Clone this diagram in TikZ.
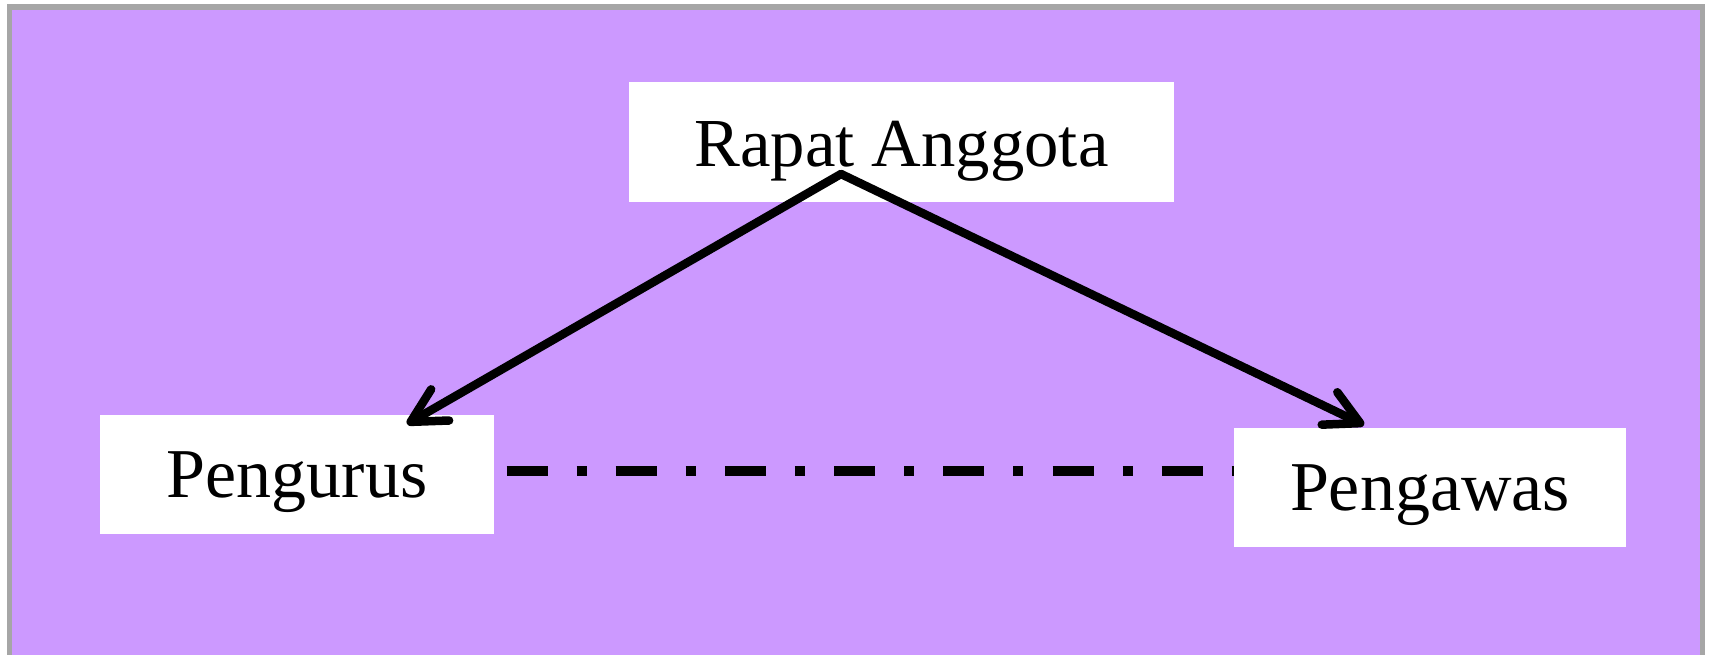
\documentclass[tikz,border=0pt]{standalone}
\usepackage{fontspec}
\setmainfont{Liberation Serif}
\usetikzlibrary{arrows.meta}
\definecolor{bgpurple}{RGB}{204,153,255}
\definecolor{framegray}{RGB}{166,166,166}
\begin{document}
\begin{tikzpicture}[x=1pt,y=-1pt,
  box/.style={fill=white,inner sep=0pt,font=\fontsize{68.7}{80}\selectfont,text height=50pt,text depth=0pt},
  lowbox/.style={box,font=\fontsize{70}{80}\selectfont,text height=45pt},
  arr/.style={line width=8.5pt,line cap=round,line join=round,-{Straight Barb[length=34pt,width=36pt,round]}},
  dashdot/.style={line width=9.5pt,dash pattern=on 41pt off 29pt on 10pt off 29.2pt}]
\useasboundingbox (0,0) rectangle (1709,655);
\clip (0,0) rectangle (1709,655);
\draw[framegray,line width=5.5pt,fill=bgpurple] (9.5,7) rectangle (1702.5,690);
\node[box,minimum width=545pt,minimum height=120pt] (rapat) at (901.5,142) {Rapat Anggota};
\node[lowbox,minimum width=394pt,minimum height=119pt] (pengurus) at (297,474.5) {Pengurus};
\node[lowbox,minimum width=392pt,minimum height=119pt] (pengawas) at (1430,487.5) {Pengawas};
\coordinate (apex) at (841,174);
\coordinate (lt) at (407,424);
\coordinate (rt) at (1364,425);
\coordinate (ds) at (506.5,471);
\coordinate (de) at (1234,471);
\draw[arr] (apex) -- (lt);
\draw[arr] (apex) -- (rt);
\draw[dashdot] (ds) -- (de);
\end{tikzpicture}
\end{document}
